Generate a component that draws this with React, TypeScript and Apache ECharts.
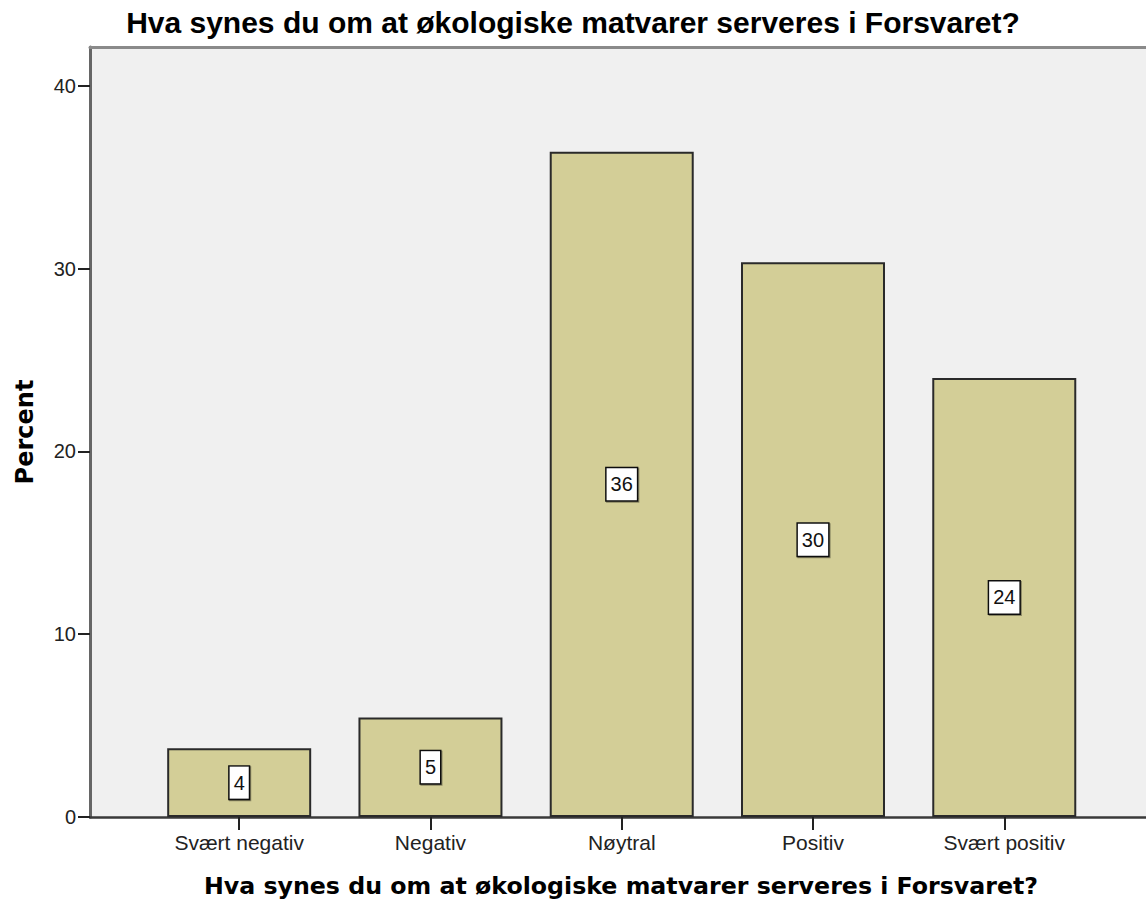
import React, { useEffect, useRef } from "react";
import * as echarts from "echarts";

const chartTitle = "Hva synes du om at økologiske matvarer serveres i Forsvaret?";
const xAxisTitle = "Hva synes du om at økologiske matvarer serveres i Forsvaret?";
const yAxisTitle = "Percent";
const categories = ["Svært negativ", "Negativ", "Nøytral", "Positiv", "Svært positiv"];
const percents = [3.76, 5.45, 36.4, 30.35, 24.02];
const yTicks = [0, 10, 20, 30, 40];

export default function App() {
  const ref = useRef<HTMLDivElement>(null);

  useEffect(() => {
    if (!ref.current) return;
    const chart = echarts.init(ref.current, undefined, { renderer: "svg" });
    const xMin = -0.78;
    const xMax = 4.741;
    const catIdx = categories.map((_, i) => i);
    const option: any = {
      animation: false,
      backgroundColor: "#ffffff",
      title: {
        text: chartTitle,
        left: "center",
        top: 7,
        padding: 0,
        textStyle: {
          fontFamily: "Liberation Sans",
          fontWeight: "bold",
          fontSize: 30,
          color: "#000000",
        },
      },
      grid: {
        left: 90,
        right: 0,
        top: 47,
        bottom: 84,
        show: true,
        backgroundColor: "#F0F0F0",
        borderWidth: 0,
        containLabel: false,
        outerBoundsMode: "none",
      },
      xAxis: [
        {
          type: "value",
          min: xMin,
          max: xMax,
          position: "bottom",
          name: xAxisTitle,
          nameLocation: "middle",
          nameGap: 57,
          nameTextStyle: {
            fontFamily: "DejaVu Sans",
            fontWeight: "bold",
            fontSize: 23.7,
            color: "#000000",
            padding: [0, 0, 0, 6],
          },
          axisLine: { show: true, onZero: false, lineStyle: { color: "#3a3a3a", width: 2.5 } },
          axisTick: {
            show: true,
            customValues: catIdx,
            length: 13,
            lineStyle: { color: "#222222", width: 2 },
          },
          axisLabel: {
            show: true,
            customValues: catIdx,
            formatter: (v: number) => categories[Math.round(v)] ?? "",
            fontFamily: "Liberation Sans",
            fontSize: 21,
            color: "#222222",
            margin: 15,
          },
          splitLine: { show: false },
        },
        {
          type: "value",
          min: xMin,
          max: xMax,
          position: "top",
          axisLine: { show: true, onZero: false, lineStyle: { color: "#8a8a8a", width: 3 } },
          axisTick: { show: false },
          axisLabel: { show: false },
          splitLine: { show: false },
        },
      ],
      yAxis: {
        type: "value",
        min: 0,
        max: 42.13,
        position: "left",
        name: yAxisTitle,
        nameLocation: "middle",
        nameGap: 53,
        nameRotate: 90,
        nameTextStyle: {
          fontFamily: "DejaVu Sans",
          fontWeight: "bold",
          fontSize: 24,
          color: "#000000",
        },
        axisLine: { show: true, onZero: false, lineStyle: { color: "#666666", width: 3 } },
        axisTick: {
          show: true,
          customValues: yTicks,
          length: 12,
          lineStyle: { color: "#222222", width: 2 },
        },
        axisLabel: {
          show: true,
          customValues: yTicks,
          fontFamily: "Liberation Sans",
          fontSize: 20,
          color: "#222222",
          margin: 14,
        },
        splitLine: { show: false },
      },
      series: [
        {
          type: "bar",
          xAxisIndex: 0,
          yAxisIndex: 0,
          barWidth: 144,
          data: percents.map((v, i) => [i, v]),
          itemStyle: {
            color: "#D3CE97",
            borderColor: "#2a2a2a",
            borderWidth: 2,
          },
          label: {
            show: true,
            position: "inside",
            formatter: (p: any) => String(Math.round(p.value[1])),
            fontFamily: "Liberation Sans",
            fontSize: 20,
            lineHeight: 20,
            color: "#111111",
            backgroundColor: "#ffffff",
            borderColor: "#111111",
            borderWidth: 1.5,
            padding: [6, 4, 6, 4],
            shadowColor: "rgba(0,0,0,0.35)",
            shadowOffsetX: 1,
            shadowOffsetY: 1,
            shadowBlur: 1,
          },
        },
      ],
    };
    chart.setOption(option);
    return () => chart.dispose();
  }, []);

  return (
    <div
      ref={ref}
      style={{ position: "fixed", left: 0, top: 0, width: 1146, height: 901 }}
    />
  );
}
